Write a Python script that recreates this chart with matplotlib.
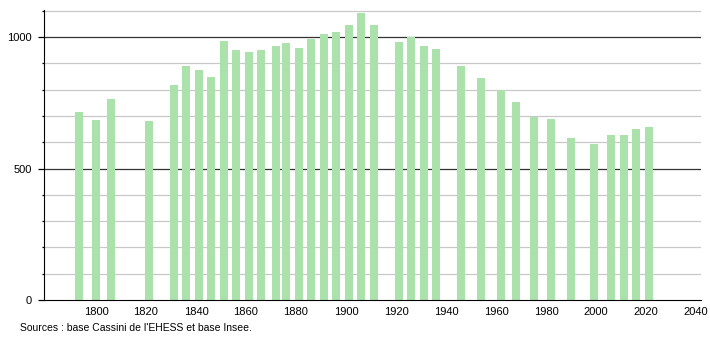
import numpy as np
import matplotlib
matplotlib.use('Agg')
import matplotlib.pyplot as plt

# recensements
years = [1793, 1800, 1806, 1821, 1831, 1836, 1841, 1846, 1851, 1856, 1861, 1866,
         1872, 1876, 1881, 1886, 1891, 1896, 1901, 1906, 1911, 1921, 1926, 1931,
         1936, 1946, 1954, 1962, 1968, 1975, 1982, 1990, 1999, 2006, 2011, 2016, 2021]
population = [716, 684, 763, 681, 817, 890, 873, 847, 985, 951, 944, 951,
              966, 976, 957, 991, 1011, 1020, 1046, 1092, 1046, 980, 999, 966,
              953, 890, 844, 798, 752, 697, 688, 616, 593, 627, 627, 650, 658]
xticks = list(range(1800, 2041, 20))
yticks = [0, 500, 1000]
source = "Sources : base Cassini de l'EHESS et base Insee."

plt.rcParams['font.family'] = ['Liberation Sans Narrow', 'Liberation Sans', 'DejaVu Sans']

fig = plt.figure(figsize=(7.1, 3.4), dpi=100)
ax = fig.add_axes([44/710, 40/340, 657/710, 290/340])

ax.set_xlim(1779.2, 2042.0)
ax.set_ylim(0, 1103)

for y in range(100, 1101, 100):
    if y % 500 == 0:
        ax.axhline(y, color='#333333', lw=0.9, zorder=1)
    else:
        ax.axhline(y, color='#c8c8c8', lw=0.9, zorder=1)

ax.bar(years, population, width=3.2, color='#abe2ab', zorder=2)

ax.set_xticks(xticks)
ax.set_yticks(yticks)
ax.set_yticks(range(0, 1101, 100), minor=True)
ax.tick_params(axis='x', length=0, labelsize=8, pad=5)
ax.tick_params(axis='y', which='major', length=4, width=0.9, labelsize=8, pad=5)
ax.tick_params(axis='y', which='minor', length=1.6, width=0.9)
for s in ['top', 'right']:
    ax.spines[s].set_visible(False)
ax.spines['left'].set_color('black')
ax.spines['bottom'].set_color('black')
ax.spines['bottom'].set_zorder(3)

fig.text(20/710, 1 - 328/340, source, fontsize=7.5, va='center', ha='left')

plt.savefig('out.png', dpi=100)
